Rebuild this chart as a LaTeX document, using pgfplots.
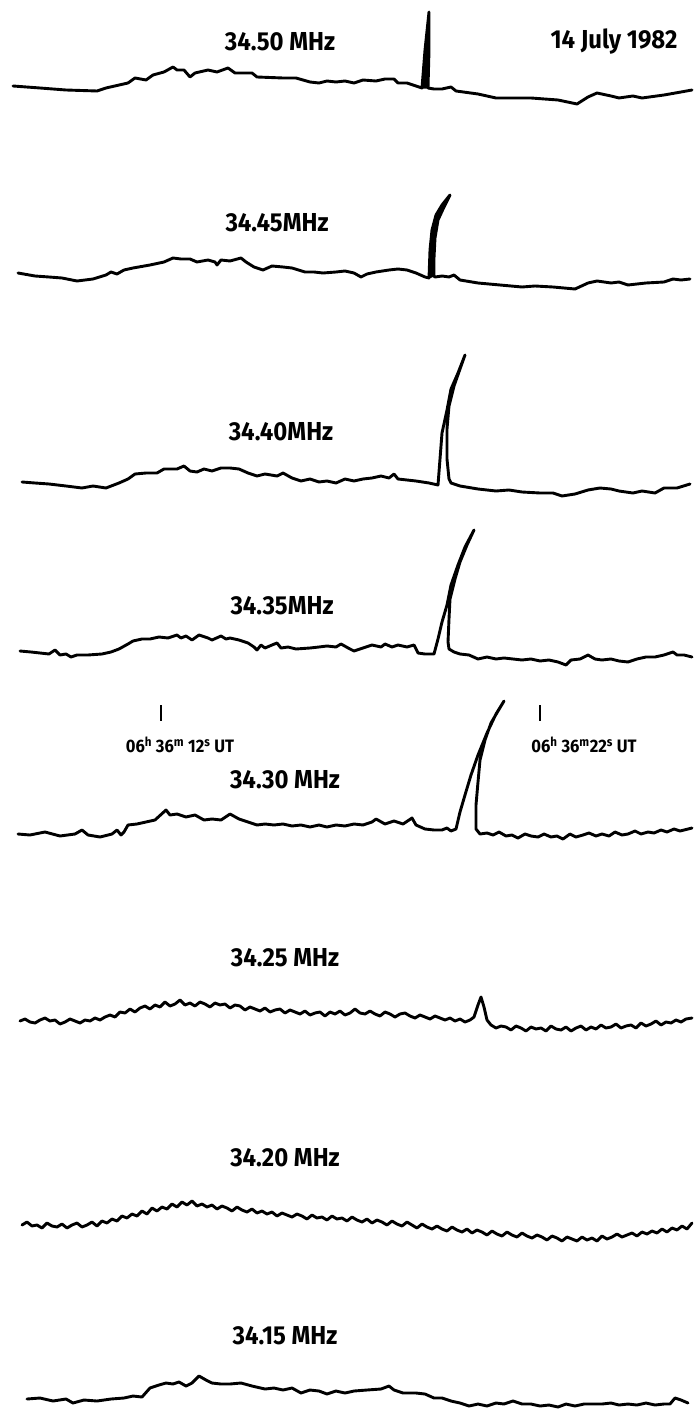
\documentclass[border=0pt]{standalone}
\usepackage{pgfplots}
\pgfplotsset{compat=1.18}
\usepackage{fontspec}
\setmainfont{Fira Sans}
\newfontfamily\labfont{Fira Sans}[FakeStretch=0.92]

\pgfplotsset{
  trace/.style={black, line width=2.9pt, line join=round, line cap=round, mark=none},
  spikefill/.style={black, fill=black, line width=1.2pt, line join=round, mark=none},
}
\tikzset{
  freq/.style={font=\labfont\fontsize{26}{26}\selectfont\bfseries, inner sep=0pt, anchor=center},
  utlab/.style={font=\labfont\fontsize{18}{18}\selectfont\bfseries, inner sep=0pt, anchor=center},
}

\begin{document}
\begin{tikzpicture}
\begin{axis}[
  scale only axis, width=694pt, height=1420pt,
  xmin=0, xmax=694, ymin=0, ymax=1420, y dir=reverse,
  axis lines=none, clip=false,
]
\path (axis cs:0,0) rectangle (axis cs:694,1420);

% ---------------- 34.50 MHz ----------------
\addplot[trace] coordinates {
(13,86) (40,88) (66,90) (97,91) (106,88) (128,83) (135,78) (146,80) (153,75) (164,72)
(173,67) (177,70) (184,70) (190,77) (195,73) (208,70) (217,72) (228,68) (235,73) (252,73)
(257,77) (283,78) (296,78) (310,82) (319,83) (327,81) (336,82) (345,81) (354,83) (363,80)
(376,81) (385,79) (394,79) (398,83) (407,83) (416,86) (422,88) (425,50) (429,12) (429,50)
(428,88) (434,89) (442,89) (451,87) (456,91) (478,94) (496,98) (531,98) (558,100) (577,104)
(588,97) (597,93) (611,96) (619,98) (633,96) (642,98) (664,95) (681,92) (692,90)};
\addplot[spikefill] coordinates {(422,88) (425,50) (429,12) (429,50) (428,88)} -- cycle;

% ---------------- 34.45 MHz ----------------
\addplot[trace] coordinates {
(18,273) (35,276) (49,277) (62,278) (77,281) (93,279) (106,275) (111,272) (117,274) (124,270)
(133,268) (150,265) (164,262) (173,258) (181,259) (190,259) (197,262) (208,260) (215,262) (217,265)
(221,260) (230,261) (241,258) (246,262) (254,267) (263,270) (272,266) (283,267) (292,268) (305,272)
(314,272) (323,273) (336,272) (345,271) (354,273) (361,277) (367,274) (376,272) (389,270) (398,269)
(407,270) (416,273) (425,277) (429,278) (430,250) (432,230) (436,215) (442,205) (450,195) (444,207)
(438,220) (435,238) (434,258) (434,276) (435,277) (442,276) (449,277) (454,275) (460,280) (478,283)
(500,285) (522,287) (535,286) (553,287) (575,289) (588,283) (597,281) (611,283) (619,282) (628,285)
(646,283) (664,282) (673,279) (681,280) (690,279)};
\addplot[spikefill] coordinates {(429,278) (430,250) (432,230) (436,215) (442,205) (450,195)
(444,207) (438,220) (435,238) (434,258) (434,276)} -- cycle;

% ---------------- 34.40 MHz ----------------
\addplot[trace] coordinates {
(22,482) (35,483) (49,484) (66,486) (82,488) (93,486) (106,488) (119,483) (128,479) (135,474)
(146,473) (157,473) (164,469) (177,469) (184,466) (190,471) (197,472) (204,469) (212,471) (221,468)
(230,468) (239,469) (248,473) (257,476) (265,474) (277,476) (283,473) (292,478) (301,481) (310,479)
(319,482) (327,481) (336,483) (345,479) (354,481) (363,479) (372,478) (381,476) (389,478) (394,474)
(398,479) (416,481) (429,483) (438,485) (440,459) (442,433) (447,410) (451,389) (458,373) (465,355)
(460,369) (454,386) (449,406) (447,429) (447,459) (449,479) (451,483) (460,486) (478,489) (496,491)
(509,490) (522,492) (540,493) (553,493) (562,496) (575,494) (588,490) (600,488) (611,489) (619,491)
(633,493) (642,491) (655,493) (664,488) (677,488) (690,484)};

% ---------------- 34.35 MHz ----------------
\addplot[trace] coordinates {
(20,651) (31,652) (40,653) (49,654) (55,650) (60,655) (66,654) (71,657) (77,655) (88,655)
(102,654) (111,652) (119,649) (128,644) (133,641) (142,639) (150,639) (159,637) (168,638) (177,635)
(181,638) (186,636) (192,640) (199,635) (208,638) (212,640) (221,636) (226,639) (230,638) (239,640)
(248,643) (254,647) (257,650) (261,645) (265,648) (272,645) (277,643) (281,648) (288,647) (296,649)
(310,648) (319,647) (327,646) (336,647) (341,644) (350,649) (354,651) (363,648) (372,645) (381,647)
(385,644) (392,647) (398,645) (407,647) (414,645) (418,653) (425,654) (434,654) (438,639) (442,622)
(447,605) (451,585) (458,565) (465,547) (474,530) (467,545) (460,562) (455,579) (450,599) (449,619)
(448,642) (449,649) (454,652) (460,654) (469,655) (478,659) (487,657) (496,659) (504,658) (513,659)
(522,660) (531,659) (540,661) (549,660) (558,662) (566,665) (571,660) (580,659) (588,655) (595,659)
(602,660) (611,659) (619,661) (628,662) (637,659) (646,657) (655,657) (664,655) (673,652) (677,655)
(684,655) (692,657)};

% ---------------- 34.30 MHz ----------------
\addplot[trace] coordinates {
(18,834) (30,835) (45,832) (60,836) (75,834) (82,830) (88,835) (100,837) (112,834) (117,830)
(121,835) (124,832) (128,825) (137,824) (146,822) (155,820) (166,810) (170,815) (177,814) (186,817)
(195,815) (204,820) (212,819) (221,820) (230,814) (239,819) (248,822) (257,825) (265,824) (274,825)
(283,824) (292,826) (301,825) (310,827) (319,825) (327,827) (336,825) (345,826) (354,824) (363,825)
(372,822) (376,819) (385,824) (394,821) (403,824) (412,818) (416,825) (425,829) (434,830) (442,830)
(447,828) (451,831) (456,829) (460,812) (465,795) (471,775) (478,755) (487,733) (496,714) (504,701)
(498,711) (491,723) (485,740) (480,760) (478,782) (476,805) (476,829) (480,834) (487,833) (493,835)
(499,832) (506,836) (512,835) (518,838) (525,834) (531,836) (538,837) (544,834) (551,837) (557,836)
(563,839) (570,834) (576,837) (583,835) (589,833) (596,836) (602,834) (609,836) (615,832) (622,835)
(628,834) (635,831) (641,834) (648,832) (654,833) (661,830) (667,832) (674,829) (680,831) (692,828)};

% ---------------- 34.25 MHz ----------------
\addplot[trace] coordinates {
(20,1021) (25,1019) (30,1022) (35,1023) (40,1020) (45,1018) (50,1021) (55,1020) (60,1024) (65,1022)
(70,1019) (75,1021) (80,1023) (85,1020) (90,1021) (95,1018) (100,1020) (105,1017) (110,1015) (115,1017)
(120,1012) (125,1013) (130,1009) (135,1012) (140,1008) (145,1006) (150,1009) (155,1005) (160,1007) (165,1002)
(170,1006) (175,1004) (180,1000) (185,1005) (190,1003) (195,1006) (200,1002) (205,1004) (210,1007) (215,1003)
(220,1005) (225,1004) (230,1008) (235,1005) (240,1006) (245,1010) (250,1007) (255,1009) (260,1011) (265,1008)
(270,1012) (275,1010) (280,1009) (285,1013) (290,1010) (295,1012) (300,1014) (305,1011) (310,1015) (315,1013)
(320,1012) (325,1016) (330,1012) (335,1014) (340,1011) (345,1015) (350,1013) (355,1009) (360,1013) (365,1014)
(370,1011) (375,1014) (380,1016) (385,1012) (390,1014) (395,1017) (400,1014) (405,1013) (410,1016) (415,1018)
(420,1015) (425,1017) (430,1019) (435,1016) (440,1018) (445,1020) (450,1018) (455,1021) (460,1019) (465,1022)
(470,1020) (474,1017) (478,1005) (481,997) (484,1007) (487,1020) (491,1025) (496,1028) (501,1026) (506,1027)
(511,1030) (516,1026) (521,1028) (526,1031) (531,1027) (536,1029) (541,1028) (546,1031) (551,1026) (556,1029)
(561,1030) (566,1027) (571,1031) (576,1028) (581,1026) (586,1030) (591,1027) (596,1029) (601,1025) (606,1028)
(611,1027) (616,1024) (621,1028) (626,1026) (631,1025) (636,1028) (641,1023) (646,1026) (651,1024) (656,1021)
(661,1025) (666,1022) (671,1023) (676,1020) (681,1022) (686,1019) (692,1018)};

% ---------------- 34.20 MHz ----------------
\addplot[trace] coordinates {
(22,1225) (27,1222) (32,1226) (37,1225) (42,1228) (47,1223) (52,1226) (57,1227) (62,1224) (67,1228)
(72,1225) (77,1223) (82,1227) (87,1225) (92,1222) (97,1226) (102,1221) (107,1223) (112,1219) (117,1221)
(122,1216) (127,1218) (132,1214) (137,1216) (142,1211) (147,1214) (152,1208) (157,1211) (162,1207) (167,1209)
(172,1204) (177,1207) (182,1202) (187,1205) (192,1201) (197,1206) (202,1204) (207,1207) (212,1205) (217,1209)
(222,1206) (227,1208) (232,1211) (237,1207) (242,1210) (247,1212) (252,1209) (257,1213) (262,1211) (267,1214)
(272,1212) (277,1216) (282,1213) (287,1215) (292,1217) (297,1214) (302,1216) (307,1219) (312,1215) (317,1218)
(322,1217) (327,1220) (332,1216) (337,1219) (342,1218) (347,1221) (352,1217) (357,1220) (362,1222) (367,1219)
(372,1223) (377,1220) (382,1222) (387,1225) (392,1221) (397,1224) (402,1226) (407,1222) (412,1225) (417,1228)
(422,1224) (427,1227) (432,1229) (437,1226) (442,1229) (447,1231) (452,1227) (457,1230) (462,1232) (467,1229)
(472,1233) (477,1230) (482,1232) (487,1235) (492,1231) (497,1234) (502,1236) (507,1232) (512,1235) (517,1237)
(522,1233) (527,1236) (532,1238) (537,1235) (542,1237) (547,1240) (552,1236) (557,1238) (562,1241) (567,1237)
(572,1239) (577,1241) (582,1237) (587,1240) (592,1238) (597,1241) (602,1236) (607,1239) (612,1237) (617,1234)
(622,1237) (627,1235) (632,1233) (637,1236) (642,1232) (647,1234) (652,1231) (657,1233) (662,1229) (667,1232)
(672,1228) (677,1230) (682,1226) (687,1229) (692,1223)};

% ---------------- 34.15 MHz ----------------
\addplot[trace] coordinates {
(27,1399) (40,1398) (53,1401) (66,1399) (73,1403) (84,1400) (97,1401) (111,1399) (124,1398) (133,1396)
(142,1397) (150,1388) (159,1385) (166,1383) (173,1384) (179,1382) (186,1386) (192,1383) (199,1376) (206,1380)
(212,1383) (221,1384) (230,1384) (241,1383) (252,1386) (265,1389) (274,1388) (283,1390) (292,1388) (301,1393)
(310,1390) (319,1391) (327,1394) (336,1391) (345,1393) (354,1391) (367,1390) (381,1389) (389,1386) (394,1390)
(403,1393) (416,1393) (425,1394) (434,1398) (442,1398) (451,1401) (460,1403) (469,1406) (478,1404) (487,1406)
(496,1403) (504,1404) (513,1401) (522,1404) (531,1404) (540,1406) (549,1405) (558,1407) (566,1404) (575,1406)
(584,1404) (593,1404) (602,1404) (611,1403) (619,1405) (628,1404) (637,1405) (646,1403) (655,1405) (664,1404)
(670,1404) (675,1398) (681,1400) (688,1403)};

% time markers
\addplot[black, line width=2.2pt, mark=none] coordinates {(161,705) (161,721)};
\addplot[black, line width=2.2pt, mark=none] coordinates {(540,705) (540,721)};

% labels
\node[freq] at (axis cs:280,42) {34.50 MHz};
\node[freq] at (axis cs:614,42) {14 July 1982};
\node[freq] at (axis cs:277,223) {34.45MHz};
\node[freq] at (axis cs:281,432) {34.40MHz};
\node[freq] at (axis cs:282,606) {34.35MHz};
\node[freq] at (axis cs:285,780) {34.30 MHz};
\node[freq] at (axis cs:285,958) {34.25 MHz};
\node[freq] at (axis cs:285,1158) {34.20 MHz};
\node[freq] at (axis cs:285,1336) {34.15 MHz};
\node[utlab] at (axis cs:180,745) {06\textsuperscript{h} 36\textsuperscript{m} 12\textsuperscript{s} UT};
\node[utlab] at (axis cs:584,745) {06\textsuperscript{h} 36\textsuperscript{m}22\textsuperscript{s} UT};
\end{axis}
\end{tikzpicture}
\end{document}
